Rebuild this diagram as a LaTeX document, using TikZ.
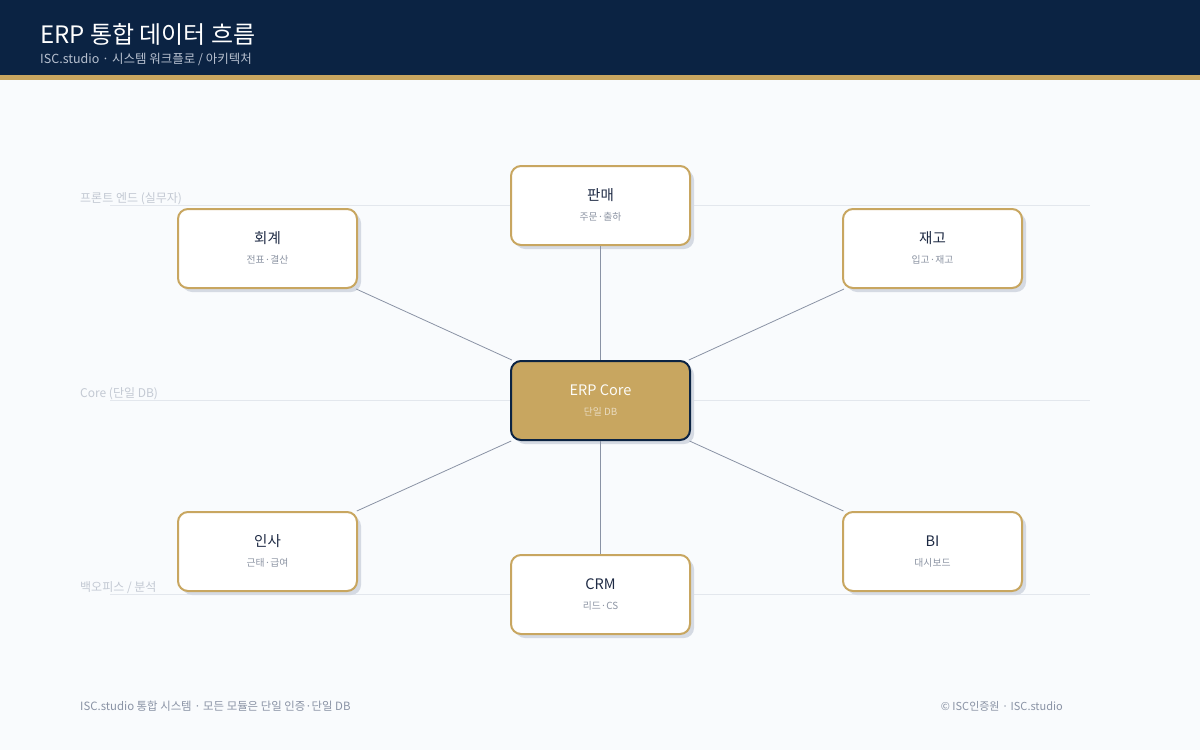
\documentclass[tikz,border=0pt]{standalone}
\usepackage{fontspec}
\setmainfont{Noto Sans CJK KR}
\usetikzlibrary{shadows}
\definecolor{navy}{HTML}{0B2343}
\definecolor{gold}{HTML}{C8A660}
\definecolor{bgc}{HTML}{F9FBFD}
\definecolor{lanec}{HTML}{E3E7ED}
\definecolor{lanetxt}{HTML}{C3C9D3}
\definecolor{subtxt}{HTML}{B8C1D0}
\definecolor{edgec}{HTML}{8A93A5}
\definecolor{titc}{HTML}{1E2A44}
\definecolor{subc}{HTML}{8C94A3}
\definecolor{shadc}{HTML}{D5DAE3}
\definecolor{foot}{HTML}{8A93A5}
\tikzset{
  modbox/.style={draw=gold, line width=2pt, fill=white, rounded corners=10pt,
    minimum width=179pt, minimum height=79pt, inner sep=0pt,
    general shadow={fill=shadc, shadow xshift=4pt, shadow yshift=-4pt}},
  corebox/.style={modbox, fill=gold, draw=navy},
  modtitle/.style={font=\fontsize{14.5}{16}\selectfont, text=titc, inner sep=0pt},
  modsub/.style={font=\fontsize{9.8}{11}\selectfont, text=subc, inner sep=0pt},
  lanelabel/.style={font=\fontsize{12}{14}\selectfont, text=lanetxt, anchor=base west, inner sep=0pt},
  link/.style={draw=edgec, line width=0.8pt},
  footnote/.style={font=\fontsize{11}{13}\selectfont, text=foot, inner sep=0pt}
}
\begin{document}
\begin{tikzpicture}[x=1pt,y=-1pt]
\useasboundingbox (0,0) rectangle (1200,750);
\fill[bgc] (0,0) rectangle (1200,750);
\fill[navy] (0,0) rectangle (1200,75);
\fill[gold] (0,75) rectangle (1200,80);
\node[font=\fontsize{24}{27}\selectfont, text=white, anchor=base west, inner sep=0pt] (title) at (40,43) {ERP 통합 데이터 흐름};
\node[font=\fontsize{12.5}{14}\selectfont, text=subtxt, anchor=base west, inner sep=0pt] (subtitle) at (40,63) {ISC.studio · 시스템 워크플로 / 아키텍처};
% lanes
\draw[lanec, line width=0.8pt] (110,205) coordinate (l1a) -- (1090,205) coordinate (l1b);
\draw[lanec, line width=0.8pt] (110,400) coordinate (l2a) -- (1090,400) coordinate (l2b);
\draw[lanec, line width=0.8pt] (110,594) coordinate (l3a) -- (1090,594) coordinate (l3b);
\node[lanelabel] (lane1) at (80,202) {프론트 엔드 (실무자)};
\node[lanelabel] (lane2) at (80,397) {Core (단일 DB)};
\node[lanelabel] (lane3) at (80,591) {백오피스 / 분석};
% nodes
\node[corebox] (core) at (600.5,400.5) {};
\node[modbox] (sales) at (600.5,205.5) {};
\node[modbox] (acct) at (267.5,248.5) {};
\node[modbox] (inv) at (932.5,248.5) {};
\node[modbox] (hr) at (267.5,551.5) {};
\node[modbox] (bi) at (932.5,551.5) {};
\node[modbox] (crm) at (600.5,594.5) {};
% links
\draw[link] (core) -- (sales);
\draw[link] (core) -- (acct);
\draw[link] (core) -- (inv);
\draw[link] (core) -- (hr);
\draw[link] (core) -- (bi);
\draw[link] (core) -- (crm);
% texts
\node[modtitle] (sales-t) at ([yshift=10pt]sales.center) {판매};
\node[modsub] (sales-s) at ([yshift=-11pt]sales.center) {주문·출하};
\node[modtitle] (acct-t) at ([yshift=10pt]acct.center) {회계};
\node[modsub] (acct-s) at ([yshift=-11pt]acct.center) {전표·결산};
\node[modtitle] (inv-t) at ([yshift=10pt]inv.center) {재고};
\node[modsub] (inv-s) at ([yshift=-11pt]inv.center) {입고·재고};
\node[modtitle] (hr-t) at ([yshift=10pt]hr.center) {인사};
\node[modsub] (hr-s) at ([yshift=-11pt]hr.center) {근태·급여};
\node[modtitle] (bi-t) at ([yshift=10pt]bi.center) {BI};
\node[modsub] (bi-s) at ([yshift=-11pt]bi.center) {대시보드};
\node[modtitle] (crm-t) at ([yshift=10pt]crm.center) {CRM};
\node[modsub] (crm-s) at ([yshift=-11pt]crm.center) {리드·CS};
\node[modtitle, text=white!95!gold] (core-t) at ([yshift=10pt]core.center) {ERP Core};
\node[modsub, text=white!60!gold] (core-s) at ([yshift=-11pt]core.center) {단일 DB};
% footer
\node[footnote, anchor=west, font=\fontsize{11.4}{13}\selectfont] (footl) at (80,706) {ISC.studio 통합 시스템 · 모든 모듈은 단일 인증·단일 DB};
\node[footnote, anchor=east] (footr) at (1063,706) {© ISC인증원 · ISC.studio};
\end{tikzpicture}
\end{document}
